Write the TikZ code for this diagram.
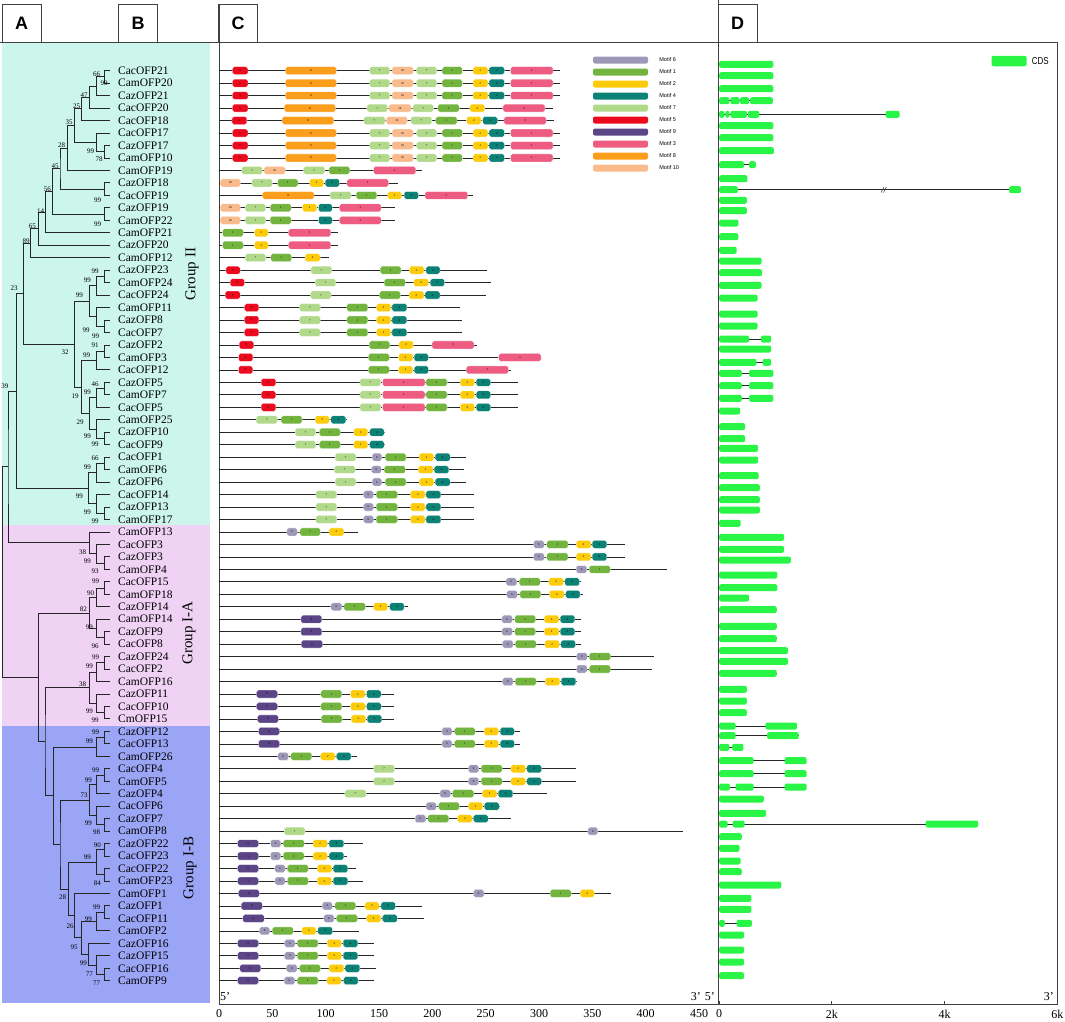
\documentclass[tikz,border=0pt]{standalone}
\usepackage{fontspec}
\setmainfont{Liberation Serif}
\setsansfont{Liberation Sans}
\usetikzlibrary{positioning,calc}

\definecolor{mot6}{RGB}{157,152,183}
\definecolor{mot1}{RGB}{114,180,62}
\definecolor{mot2}{RGB}{252,203,10}
\definecolor{mot4}{RGB}{12,130,119}
\definecolor{mot7}{RGB}{176,217,138}
\definecolor{mot5}{RGB}{235,10,30}
\definecolor{mot9}{RGB}{92,69,135}
\definecolor{mot3}{RGB}{238,92,130}
\definecolor{mot8}{RGB}{250,158,28}
\definecolor{mot10}{RGB}{249,187,139}
\definecolor{cds}{RGB}{40,245,70}
\definecolor{grpII}{RGB}{204,245,236}
\definecolor{grpIA}{RGB}{240,210,245}
\definecolor{grpIB}{RGB}{155,165,245}

\tikzset{
  branch/.style={line width=0.9pt, draw=black!85},
  frame/.style={line width=0.8pt, draw=black!75},
  gline/.style={line width=0.7pt, draw=black!85},
  gene/.style={anchor=west, inner sep=0pt, font=\fontsize{11.5}{12}\selectfont},
  boot/.style={inner sep=0pt, font=\fontsize{7}{7}\selectfont},
  grp/.style={inner sep=0pt, rotate=90, font=\fontsize{15}{15}\selectfont},
  hdr/.style={frame, draw, minimum width=39pt, minimum height=38pt, inner sep=0pt,
    font=\sffamily\bfseries\fontsize{18}{18}\selectfont},
  mbox/.style={draw=white, line width=0.3pt, rounded corners=1.8pt, minimum height=8pt,
    inner sep=0pt, anchor=west, font=\fontsize{3}{3}\selectfont},
  exon/.style={fill=cds, rounded corners=2pt, minimum height=7pt, inner sep=0pt, anchor=west},
  legbox/.style={rounded corners=2pt, minimum width=55pt, minimum height=7pt, inner sep=0pt},
  legtext/.style={anchor=west, inner sep=0pt, font=\sffamily\fontsize{5.5}{6}\selectfont},
  axlab/.style={inner sep=0pt, font=\fontsize{12}{12}\selectfont},
}

% join two children into a clade at x = #2
\newcommand{\clade}[4]{%
  \path let \p1=(#3), \p2=(#4) in coordinate (#1) at (#2pt,{(\y1+\y2)/2});
  \draw[branch] (#3) -| (#1) |- (#4);
}
% one row of panel C: row, length, motifs start/end/id
\newcommand{\mrow}[3]{%
  \pgfmathsetmacro{\yy}{70.7+12.466*(#1-1)}
  \draw[gline] (219,\yy) -- ({219+1.0667*#2},\yy);
  \foreach \s/\e/\m [count=\k] in {#3}
    \node[mbox, fill=mot\m, minimum width={(\e-\s)*1.0667pt}] (c#1-\k) at ({219+1.0667*\s},\yy) {\m};
}
% one row of panel D: row, y, exons start/end in kb
\newcommand{\drow}[3]{%
  \foreach \s/\e in {#3} \draw[gline] (719,#2) -- ({719+56.4*\e},#2);
  \foreach \s/\e [count=\k] in {#3}
    \node[exon, minimum width={(\e-\s)*56.4pt}] (d#1-\k) at ({719+56.4*\s},#2) {};
}

\begin{document}
\begin{tikzpicture}[x=1pt, y=-1pt]
  \useasboundingbox (0,0) rectangle (1065,1021);

  % group backgrounds
  \fill[grpII] (2,43) rectangle (210,525);
  \fill[grpIA] (2,525) rectangle (210,726);
  \fill[grpIB] (2,726) rectangle (210,1003);

  % frames and headers
  \draw[frame] (0,42) -- (718,42);
  \draw[frame] (718,0) -- (718,42);
  \draw[frame] (718,42) rectangle (1057,1004.5);
  \draw[frame] (219,4) -- (219,1004.5) -- (718,1004.5);
  \node[hdr] (hA) at (21.5,23) {A};
  \node[hdr] (hB) at (138,23) {B};
  \node[hdr] (hC) at (238,23) {C};
  \node[hdr] (hD) at (737.5,23) {D};

  % leaves and names
  \foreach \g [count=\i] in {CacOFP21,CamOFP20,CazOFP21,CacOFP20,CacOFP18,CacOFP17,CazOFP17,
      CamOFP10,CamOFP19,CazOFP18,CacOFP19,CazOFP19,CamOFP22,CamOFP21,CazOFP20,CamOFP12,
      CazOFP23,CamOFP24,CacOFP24,CamOFP11,CazOFP8,CacOFP7,CazOFP2,CamOFP3,CacOFP12,CazOFP5,
      CamOFP7,CacOFP5,CamOFP25,CazOFP10,CacOFP9,CacOFP1,CamOFP6,CazOFP6,CacOFP14,CazOFP13,
      CamOFP17,CamOFP13,CacOFP3,CazOFP3,CamOFP4,CacOFP15,CamOFP18,CazOFP14,CamOFP14,CazOFP9,
      CacOFP8,CazOFP24,CacOFP2,CamOFP16,CazOFP11,CacOFP10,CmOFP15,CazOFP12,CacOFP13,CamOFP26,
      CacOFP4,CamOFP5,CazOFP4,CacOFP6,CazOFP7,CamOFP8,CazOFP22,CacOFP23,CacOFP22,CamOFP23,
      CamOFP1,CazOFP1,CacOFP11,CamOFP2,CazOFP16,CazOFP15,CacOFP16,CamOFP9} {
    \coordinate (L\i) at (110,{70.7+12.466*(\i-1)});
    \node[gene] (n\i) at (118,{70.7+12.466*(\i-1)}) {\g};
  }

  % tree, Group II
  \clade{a1}{104.3}{L1}{L2}
  \clade{a2}{96.7}{a1}{L3}
  \clade{a3}{89.3}{a2}{L4}
  \clade{a4}{81.7}{a3}{L5}
  \clade{b1}{104.3}{L7}{L8}
  \clade{b2}{96.7}{L6}{b1}
  \clade{a5}{74.3}{a4}{b2}
  \clade{a6}{67.7}{a5}{L9}
  \clade{c1}{104.3}{L10}{L11}
  \clade{a7}{60}{a6}{c1}
  \clade{d1}{104.3}{L12}{L13}
  \clade{a8}{52.7}{a7}{d1}
  \clade{a9}{45.3}{a8}{L14}
  \clade{a10}{38.3}{a9}{L15}
  \clade{a11}{30.7}{a10}{L16}
  \clade{e1}{104.3}{L17}{L18}
  \clade{e2}{96.7}{e1}{L19}
  \clade{f1}{104.3}{L21}{L22}
  \clade{f2}{96.7}{L20}{f1}
  \clade{e3}{89.3}{e2}{f2}
  \clade{g1}{104.3}{L23}{L24}
  \clade{g2}{96.7}{g1}{L25}
  \clade{h1}{104.3}{L26}{L27}
  \clade{h2}{96.7}{h1}{L28}
  \clade{i1}{104.3}{L30}{L31}
  \clade{i2}{96.7}{L29}{i1}
  \clade{j1}{89.3}{h2}{i2}
  \clade{k1}{81.7}{g2}{j1}
  \clade{m32}{74.3}{e3}{k1}
  \clade{n23}{23.3}{a11}{m32}
  \clade{l1}{104.3}{L32}{L33}
  \clade{l2}{96.7}{l1}{L34}
  \clade{m1}{104.3}{L36}{L37}
  \clade{m2}{96.7}{L35}{m1}
  \clade{nn}{88.3}{l2}{m2}
  \clade{n39}{16.7}{n23}{nn}
  % Group I-A
  \clade{o1}{104.3}{L40}{L41}
  \clade{o2}{96.7}{L39}{o1}
  \clade{o3}{89.3}{L38}{o2}
  \clade{top}{8}{n39}{o3}
  \clade{p1}{104.3}{L42}{L43}
  \clade{p2}{96.7}{p1}{L44}
  \clade{q1}{104.3}{L46}{L47}
  \clade{q2}{96.7}{L45}{q1}
  \clade{r1}{89.3}{p2}{q2}
  \clade{s1}{104.3}{L48}{L49}
  \clade{s2}{96.7}{s1}{L50}
  \clade{t1}{104.3}{L52}{L53}
  \clade{t2}{96.7}{L51}{t1}
  \clade{u1}{89.3}{s2}{t2}
  % Group I-B
  \clade{x1}{104.3}{L54}{L55}
  \clade{x2}{96.7}{x1}{L56}
  \clade{z1}{104.3}{L57}{L58}
  \clade{z2}{96.7}{z1}{L59}
  \clade{z3}{104.3}{L61}{L62}
  \clade{z4}{96.7}{L60}{z3}
  \clade{z5}{89.3}{z2}{z4}
  \clade{aa1}{104.3}{L63}{L64}
  \clade{aa2}{104.3}{L65}{L66}
  \clade{aa3}{96.7}{aa1}{aa2}
  \clade{bb1}{104.3}{L68}{L69}
  \clade{bb2}{96.7}{bb1}{L70}
  \clade{cc1}{104.3}{L73}{L74}
  \clade{cc2}{96.7}{L72}{cc1}
  \clade{cc3}{88.3}{L71}{cc2}
  \clade{dd}{81.7}{bb2}{cc3}
  \clade{ee}{74.3}{L67}{dd}
  \clade{ff}{68.3}{aa3}{ee}
  \clade{gg}{60}{z5}{ff}
  \clade{ib}{53.3}{x2}{gg}
  \clade{v1}{45}{u1}{ib}
  \clade{w1}{38.3}{r1}{v1}
  \clade{root}{2.7}{top}{w1}

  % bootstrap values
  \foreach \bx/\by/\bt [count=\i] in {96.7/74/66, 104/83.3/99, 84/95/47, 76.7/106.7/25, 69/122.3/35,
      90.7/151/99, 99/159.3/78, 61.7/145.7/28, 55/166/45, 47.3/189/56, 97.7/200/99, 40.7/210.7/14,
      97.7/224.3/99, 32.3/226.7/65, 26/240.7/89, 95/271.7/99, 87.3/280.7/99, 14/288.3/23,
      79.3/295.7/99, 86/330.7/99, 95.7/336/99, 95/345.7/91, 65/352.7/32, 86.7/355/99, 95/384/46,
      5/386/39, 75/396/19, 87.3/392.7/99, 80/422.3/29, 87.3/436.7/99, 95/444.3/99, 95/458.3/66,
      87.3/467.3/99, 79.3/496.7/99, 87.3/512.3/99, 95/521/99, 82.7/551.7/38, 87.3/561.7/99,
      95/571/93, 95.7/581.7/99, 90.7/592.7/90, 83.3/609.3/82, 89.3/627.3/99, 95/646/96,
      95.7/657.3/99, 89.3/666/99, 82.7/684/38, 89.3/711.7/99, 95/720/99, 95.7/732.3/99,
      89.3/741.7/99, 95.7/770/99, 88.3/780/99, 84/795/73, 88.3/823.3/99, 96.7/831.7/98,
      97.3/845/90, 87.3/857.3/99, 97.3/882.7/84, 62.7/897.3/28, 96.7/906.7/99, 88.3/919/99,
      70/925.7/26, 74/946.7/95, 83.3/962.7/99, 89.3/974/77, 96.7/982.7/77}
    \node[boot] (bs\i) at (\bx,\by) {\bt};

  \node[grp] (gII) at (192,274) {Group II};
  \node[grp] (gIA) at (189,633) {Group I-A};
  \node[grp] (gIB) at (190,868) {Group I-B};

  % panel C: motifs
  \mrow{1}{320}{12.5/27/5, 62/110/8, 141/160/7, 162/182/10, 185/204/7, 209/228/1, 238/252/2, 253/267.5/4, 273/313/3}
  \mrow{2}{320}{12.5/27/5, 62/110/8, 141/160/7, 162/182/10, 185/204/7, 209/228/1, 238/252/2, 253/267.5/4, 273/313/3}
  \mrow{3}{320}{12.5/27/5, 62/110/8, 141/160/7, 162/182/10, 185/204/7, 209/228/1, 238/252/2, 253/267.5/4, 273/313/3}
  \mrow{4}{313}{12.5/27/5, 61/109/8, 138.5/158/7, 159/180/10, 181.5/201/7, 205/225/1, 235/249/2, 266/305.6/3}
  \mrow{5}{314}{12/26/5, 59/107.5/8, 135.6/155.6/7, 156.6/176.5/10, 179.7/199.4/7, 203/223/1, 232/245.6/2, 247/261/4, 267/306.6/3}
  \mrow{6}{320}{12.5/27/5, 62/110/8, 141/160/7, 162/182/10, 185/204/7, 209/228/1, 238/252/2, 253/267.5/4, 273/313/3}
  \mrow{7}{320}{12.5/27/5, 62/110/8, 141/160/7, 162/182/10, 185/204/7, 209/228/1, 238/252/2, 253/267.5/4, 273/313/3}
  \mrow{8}{320}{12.5/27/5, 62/110/8, 141/160/7, 162/182/10, 185/204/7, 209/228/1, 238/252/2, 253/267.5/4, 273/313/3}
  \mrow{9}{190}{21/40.6/7, 42/62/10, 79/99/7, 103/122.5/1, 144.7/184.4/3}
  \mrow{10}{168}{1/20/10, 30.6/50/7, 54.7/74/1, 84.7/98/2, 99.4/112.8/4, 119.7/158.8/3}
  \mrow{11}{238}{40.6/89/8, 104/123.7/7, 128.4/147.8/1, 158/171/2, 173.4/186.8/4, 193/233/3}
  \mrow{12}{165}{1/20/10, 24.4/43.8/7, 47.8/67.5/1, 78/91.6/2, 93/106/4, 112.8/151.9/3}
  \mrow{13}{165}{1/20/10, 24.4/43.8/7, 47.8/67.5/1, 93/106/4, 112.8/151.9/3}
  \mrow{14}{112}{3/22.8/1, 33/46/2, 65/104.7/3}
  \mrow{15}{112}{3/22.8/1, 33/46/2, 65/104.7/3}
  \mrow{16}{103}{24.4/43.8/7, 48.4/68/1, 80.6/94.7/2}
  \mrow{17}{251}{6.3/19.7/5, 86/105.6/7, 151/170.6/1, 178.4/192/2, 193.8/207/4}
  \mrow{18}{254.7}{10.3/23.7/5, 90/109.4/7, 154.7/174.4/1, 182.5/196.2/2, 197.8/211.2/4}
  \mrow{19}{250}{5.6/19.7/5, 85.6/105/7, 150.3/170/1, 178/192/2, 193/207/4}
  \mrow{20}{226}{23.7/37.2/5, 75.3/95/7, 119.7/139.4/1, 147.5/161/2, 162/176/4}
  \mrow{21}{228}{23.7/37.2/5, 75.3/95/7, 119.7/139.4/1, 147.5/161/2, 162/176/4}
  \mrow{22}{227.5}{23.7/37.2/5, 75.3/95/7, 119.7/139.4/1, 147.5/161/2, 162/176/4}
  \mrow{23}{241.6}{18.7/32.5/5, 140.6/160/1, 168.4/182/2, 199.4/239/3}
  \mrow{24}{302}{18/31.6/5, 140/159.5/1, 168/181.5/2, 182.8/196.2/4, 262/301.8/3}
  \mrow{25}{273.5}{18/31.6/5, 140/159.5/1, 168/181.5/2, 182.8/196.2/4, 231.6/271.2/3}
  \mrow{26}{280}{39.4/53.1/5, 132/151.6/7, 153/193/3, 194/213.7/1, 226/239.4/2, 241/254.4/4}
  \mrow{27}{280}{39.4/53.1/5, 132/151.6/7, 153/193/3, 194/213.7/1, 226/239.4/2, 241/254.4/4}
  \mrow{28}{280}{39.4/53.1/5, 132/151.6/7, 153/193/3, 194/213.7/1, 226/239.4/2, 241/254.4/4}
  \mrow{29}{120.3}{34.7/54.7/7, 58/77.8/1, 90/103.4/2, 104.7/118.8/4}
  \mrow{30}{155.6}{71.3/90.6/7, 94/113.7/1, 126/139.4/2, 141/154.7/4}
  \mrow{31}{155.6}{71.3/90.6/7, 94/113.7/1, 126/139.4/2, 141/154.7/4}
  \mrow{32}{231.3}{108.7/128.4/7, 143.4/152.5/6, 155.6/175.3/1, 187.5/201.3/2, 202.5/216.6/4}
  \mrow{33}{230}{107.8/127.5/7, 142.8/151.9/6, 154.7/174.4/1, 186.6/200.4/2, 201.6/215.3/4}
  \mrow{34}{231.3}{108.7/128.4/7, 143.4/152.5/6, 155.6/175.3/1, 187.5/201.3/2, 202.5/216.6/4}
  \mrow{35}{239}{90.6/110.3/7, 135.3/144.7/6, 147.2/167.2/1, 179.3/193.1/2, 194/207.8/4}
  \mrow{36}{239}{90.6/110.3/7, 135.3/144.7/6, 147.2/167.2/1, 179.3/193.1/2, 194/207.8/4}
  \mrow{37}{239}{90.6/110.3/7, 135.3/144.7/6, 147.2/167.2/1, 179.3/193.1/2, 194/207.8/4}
  \mrow{38}{130.6}{63.4/73.4/6, 75.6/95/1, 103/117/2}
  \mrow{39}{380.6}{294.7/304.7/6, 307/327/1, 334.7/348.5/2, 349.7/363.4/4}
  \mrow{40}{380.6}{294.7/304.7/6, 307/327/1, 334.7/348.5/2, 349.7/363.4/4}
  \mrow{41}{420.3}{334.7/344.7/6, 346.9/366.6/1}
  \mrow{42}{339}{269/279/6, 281.3/301/1, 309/322.8/2, 324/337.8/4}
  \mrow{43}{341.6}{269.6/279.6/6, 281.9/301.6/1, 309.6/323.4/2, 324.7/338.4/4}
  \mrow{44}{177}{104.7/115/6, 117/137/1, 144.7/158/2, 159.7/173.4/4}
  \mrow{45}{339}{76.6/96.3/9, 265/275/6, 277/296.6/1, 304.7/318.5/2, 319.7/333.4/4}
  \mrow{46}{339}{76.6/96.3/9, 265/275/6, 277/296.6/1, 304.7/318.5/2, 319.7/333.4/4}
  \mrow{47}{339}{76.9/96.9/9, 265.6/275.6/6, 277.5/297.2/1, 305.3/319/2, 320.3/334/4}
  \mrow{48}{407.5}{335/345/6, 346.9/366.9/1}
  \mrow{49}{406}{335/345/6, 346.9/366.9/1}
  \mrow{50}{336}{265.6/275.6/6, 277.5/297.2/1, 305.6/319.4/2, 320.6/334.4/4}
  \mrow{51}{164}{35/54.7/9, 95.3/115/1, 123/136.9/2, 138/151.9/4}
  \mrow{52}{164}{35/54.7/9, 95.3/115/1, 123/136.9/2, 138/151.9/4}
  \mrow{53}{164.4}{35.9/55.6/9, 95.6/115.3/1, 123.7/137.5/2, 138.7/152.5/4}
  \mrow{54}{282.2}{36.9/56.6/9, 208.8/218.4/6, 220.6/240/1, 248.4/261.9/2, 263.4/276.8/4}
  \mrow{55}{282.2}{36.9/56.6/9, 208.8/218.4/6, 220.6/240/1, 248.4/261.9/2, 263.4/276.8/4}
  \mrow{56}{129}{55/65/6, 67.2/86.9/1, 95/108.7/2, 110/123.7/4}
  \mrow{57}{334.4}{144.7/164.4/7, 233.7/243.4/6, 245.6/265.3/1, 273.4/287.2/2, 288.4/302.2/4}
  \mrow{58}{334.4}{144.7/164.4/7, 233.7/243.4/6, 245.6/265.3/1, 273.4/287.2/2, 288.4/302.2/4}
  \mrow{59}{307.5}{117.8/137.8/7, 206.9/216.9/6, 218.7/238.7/1, 246.6/260.4/2, 261.6/275.3/4}
  \mrow{60}{263.4}{194/203.7/6, 205.6/225.3/1, 233.7/247.2/2, 248.7/262.5/4}
  \mrow{61}{273.4}{183.7/193.7/6, 195.6/215.3/1, 223.4/237.2/2, 238.4/252.2/4}
  \mrow{62}{435.3}{61/80.6/7, 345.6/355/6}
  \mrow{63}{135.3}{17.2/36.9/9, 48/57.8/6, 60/79.7/1, 88/101.5/2, 103/116.9/4}
  \mrow{64}{120.3}{17.2/36.9/9, 48/57.8/6, 60/79.7/1, 88/101.5/2, 103/116.9/4}
  \mrow{65}{128}{17.2/36.9/9, 52.2/61.9/6, 64/83.7/1, 91.9/105.6/2, 106.9/120.6/4}
  \mrow{66}{135.3}{17.2/36.9/9, 52.2/61.9/6, 64/83.7/1, 91.9/105.6/2, 106.9/120.6/4}
  \mrow{67}{367.2}{18.1/37.8/9, 238.4/248.2/6, 310.3/330/1, 338.4/351.8/2}
  \mrow{68}{190.6}{20.6/40.6/9, 96.6/106.2/6, 108.4/128.1/1, 136.6/150/2, 151.6/165.3/4}
  \mrow{69}{192.2}{22.2/42.2/9, 98.1/107.8/6, 110/129.7/1, 138.1/151.6/2, 153.1/166.9/4}
  \mrow{70}{131.5}{37.8/47.5/6, 49.7/69.4/1, 77.5/90.9/2, 92.5/106.2/4}
  \mrow{71}{145}{17.2/36.9/9, 61.2/71.2/6, 73.1/92.8/1, 101.2/114.7/2, 116.2/130/4}
  \mrow{72}{145}{17.2/36.9/9, 61.2/71.2/6, 73.1/92.8/1, 101.2/114.7/2, 116.2/130/4}
  \mrow{73}{147.2}{19.4/39.1/9, 63.1/73.1/6, 75.3/95/1, 103/116.9/2, 118/131.9/4}
  \mrow{74}{145}{17.2/36.9/9, 60.9/70.9/6, 73.1/92.8/1, 100.9/114.4/2, 116.6/130.3/4}

  % motif legend
  \foreach \m [count=\i] in {6,1,2,4,7,5,9,3,8,10} {
    \node[legbox, fill=mot\m] (leg\m) at (620.5,{60+12*(\i-1)}) {};
    \node[legtext, right=11pt of leg\m] (legt\m) {Motif \m};
  }

  % panel D: gene structures
  \drow{1}{64.3}{0/0.96}
  \drow{2}{75.7}{0/0.96}
  \drow{3}{88.7}{0/0.96}
  \drow{4}{100.7}{0/0.18, 0.2/0.36, 0.37/0.53, 0.55/0.95}
  \drow{5}{114.3}{0/0.09, 0.11/0.18, 0.2/0.49, 0.51/0.71, 2.95/3.2}
  \drow{6}{125.7}{0/0.96}
  \drow{7}{137.7}{0/0.96}
  \drow{8}{150.7}{0/0.97}
  \drow{9}{164.7}{0/0.44, 0.53/0.65}
  \drow{10}{178.7}{0/0.5}
  \drow{11}{189.7}{0/0.33, 5.14/5.35}
  \drow{12}{200.3}{0/0.49}
  \drow{13}{210.7}{0/0.49}
  \drow{14}{223}{0/0.34}
  \drow{15}{236.7}{0/0.34}
  \drow{16}{250.3}{0/0.31}
  \drow{17}{261}{0/0.75}
  \drow{18}{272.7}{0/0.76}
  \drow{19}{285.3}{0/0.75}
  \drow{20}{298}{0/0.68}
  \drow{21}{314}{0/0.68}
  \drow{22}{326}{0/0.68}
  \drow{23}{339}{0/0.53, 0.74/0.92}
  \drow{24}{349}{0/0.92}
  \drow{25}{362.3}{0/0.66, 0.77/0.92}
  \drow{26}{373.3}{0/0.4, 0.53/0.96}
  \drow{27}{385.7}{0/0.4, 0.53/0.96}
  \drow{28}{398.3}{0/0.4, 0.53/0.96}
  \drow{29}{411}{0/0.37}
  \drow{30}{426.7}{0/0.46}
  \drow{31}{438.7}{0/0.46}
  \drow{32}{448.3}{0/0.69}
  \drow{33}{460}{0/0.69}
  \drow{34}{475.7}{0/0.7}
  \drow{35}{487.7}{0/0.72}
  \drow{36}{499.7}{0/0.72}
  \drow{37}{510}{0/0.72}
  \drow{38}{523.3}{0/0.38}
  \drow{39}{537.3}{0/1.15}
  \drow{40}{549.3}{0/1.15}
  \drow{41}{560}{0/1.27}
  \drow{42}{575}{0/1.03}
  \drow{43}{587.7}{0/1.03}
  \drow{44}{598}{0/0.53}
  \drow{45}{609.7}{0/1.02}
  \drow{46}{626.3}{0/1.02}
  \drow{47}{638.7}{0/1.02}
  \drow{48}{650.7}{0/1.22}
  \drow{49}{661.3}{0/1.22}
  \drow{50}{673.3}{0/1.02}
  \drow{51}{689.3}{0/0.49}
  \drow{52}{701}{0/0.49}
  \drow{53}{712.7}{0/0.49}
  \drow{54}{726}{0/0.29, 0.82/1.38}
  \drow{55}{735.7}{0/0.29, 0.85/1.41}
  \drow{56}{747.3}{0/0.18, 0.23/0.43}
  \drow{57}{760.7}{0/0.61, 1.16/1.55}
  \drow{58}{773.7}{0/0.61, 1.16/1.55}
  \drow{59}{787}{0/0.19, 0.29/0.61, 1.16/1.55}
  \drow{60}{799}{0/0.79}
  \drow{61}{813.3}{0/0.83}
  \drow{62}{824}{0/0.15, 0.24/0.45, 3.66/4.59}
  \drow{63}{836.7}{0/0.4}
  \drow{64}{848.3}{0/0.36}
  \drow{65}{861}{0/0.38}
  \drow{66}{871.7}{0/0.4}
  \drow{67}{885}{0/1.1}
  \drow{68}{898.3}{0/0.57}
  \drow{69}{909.3}{0/0.57}
  \drow{70}{923.3}{0/0.1, 0.31/0.58}
  \drow{71}{935}{0/0.44}
  \drow{72}{950}{0/0.44}
  \drow{73}{962}{0/0.44}
  \drow{74}{975.7}{0/0.44}
  % break mark on the long intron
  \draw[gline, line width=0.5pt] (881,192.5) -- (884,186.9) (883.5,192.5) -- (886.5,186.9);

  % CDS legend
  \node[exon, anchor=center, minimum width=35pt, minimum height=10.5pt] (cdsleg) at (1009,61) {};
  \node[anchor=west, inner sep=0pt, xscale=0.8, font=\sffamily\fontsize{10}{10}\selectfont,
    right=5pt of cdsleg] (cdstxt) {CDS};

  % axes
  \foreach \v in {0,50,...,450}
    \node[axlab] (tc\v) at ({219+1.0667*\v},1014) {\v};
  \foreach \v/\t in {0/0,2/2k,4/4k,6/6k} {
    \draw[frame] ({719+56.4*\v},1004.5) -- ({719+56.4*\v},1001);
    \node[axlab] (td\v) at ({719+56.4*\v},1014) {\t};
  }
  \node[axlab, anchor=west] (c5) at (220,997) {5'};
  \node[axlab, anchor=east] (c3) at (701,997) {3'};
  \node[axlab, anchor=east] (d5) at (715,997) {5'};
  \node[axlab, anchor=east] (d3) at (1054,997) {3'};
\end{tikzpicture}
\end{document}
